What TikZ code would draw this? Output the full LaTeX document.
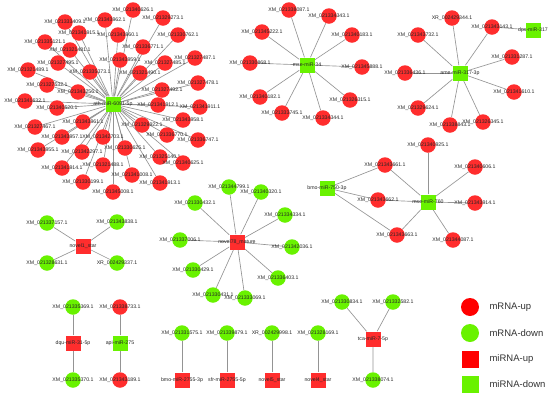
\documentclass[tikz,border=0pt]{standalone}
\usepackage{fontspec}
\setmainfont{Liberation Sans}
\usetikzlibrary{backgrounds}
\definecolor{upred}{RGB}{255,45,45}
\definecolor{downgreen}{RGB}{105,242,0}

\begin{document}
\begin{tikzpicture}[x=1pt,y=-1pt,
  mup/.style={circle,fill=upred,minimum size=15.5pt,inner sep=0pt},
  mdown/.style={circle,fill=downgreen,minimum size=15.5pt,inner sep=0pt},
  mirup/.style={rectangle,fill=upred,minimum size=15pt,inner sep=0pt},
  mirdown/.style={rectangle,fill=downgreen,minimum size=15pt,inner sep=0pt},
  lbl/.style={font=\fontsize{5.2}{6}\selectfont,text=black!85,inner sep=0pt},
  edge/.style={draw=black!42,line width=0.65pt},
  leg/.style={font=\fontsize{9.5}{11}\selectfont,text=black!80,anchor=west}]
\useasboundingbox (0,0) rectangle (550,397);

% hub 1
\node[mirdown,label={[lbl]center:ath-miR-6091-5p}] (h1) at (113,104) {};
\node[mup,label={[lbl]center:XM\_021333409.1}] (a1) at (65,22) {};
\node[mup,label={[lbl]center:XM\_021341915.1}] (a2) at (79,33) {};
\node[mup,label={[lbl]center:XM\_021335121.1}] (a3) at (45,42) {};
\node[mup,label={[lbl]center:XM\_021321481.1}] (a4) at (70,50) {};
\node[mup,label={[lbl]center:XM\_021327495.1}] (a5) at (58,63) {};
\node[mup,label={[lbl]center:XM\_021335373.1}] (a6) at (90,72) {};
\node[mup,label={[lbl]center:XM\_021321489.1}] (a7) at (28,70) {};
\node[mup,label={[lbl]center:XM\_021327532.1}] (a8) at (47,85) {};
\node[mup,label={[lbl]center:XM\_021343256.1}] (a9) at (78,92) {};
\node[mup,label={[lbl]center:XM\_021341632.1}] (a10) at (25,101) {};
\node[mup,label={[lbl]center:XM\_021340520.1}] (a11) at (57,108) {};
\node[mup,label={[lbl]center:XM\_021340626.1}] (a12) at (133,10) {};
\node[mup,label={[lbl]center:XM\_021343962.1}] (a13) at (105,20) {};
\node[mup,label={[lbl]center:XM\_021329273.1}] (a14) at (163,18) {};
\node[mup,label={[lbl]center:XM\_021343960.1}] (a15) at (118,35) {};
\node[mup,label={[lbl]center:XM\_021330762.1}] (a16) at (178,35) {};
\node[mup,label={[lbl]center:XM\_021336771.1}] (a17) at (143,47) {};
\node[mup,label={[lbl]center:XM\_021343959.1}] (a18) at (120,60) {};
\node[mup,label={[lbl]center:XM\_021327485.1}] (a19) at (165,63) {};
\node[mup,label={[lbl]center:XM\_021327487.1}] (a20) at (195,58) {};
\node[mup,label={[lbl]center:XM\_021321490.1}] (a21) at (140,73) {};
\node[mup,label={[lbl]center:XM\_021327492.1}] (a22) at (162,90) {};
\node[mup,label={[lbl]center:XM\_021327478.1}] (a23) at (198,83) {};
\node[mup,label={[lbl]center:XM\_021341912.1}] (a24) at (158,105) {};
\node[mup,label={[lbl]center:XM\_021341911.1}] (a25) at (200,107) {};
\node[mup,label={[lbl]center:XM\_021343961.1}] (a26) at (83,122) {};
\node[mup,label={[lbl]center:XM\_021327467.1}] (a27) at (35,127) {};
\node[mup,label={[lbl]center:XM\_021343957.1}] (a28) at (62,137) {};
\node[mup,label={[lbl]center:XM\_021342703.1}] (a29) at (103,137) {};
\node[mup,label={[lbl]center:XM\_021343955.1}] (a30) at (38,150) {};
\node[mup,label={[lbl]center:XM\_021342297.1}] (a31) at (82,152) {};
\node[mup,label={[lbl]center:XM\_021321488.1}] (a32) at (103,165) {};
\node[mup,label={[lbl]center:XM\_021341914.1}] (a33) at (62,168) {};
\node[mup,label={[lbl]center:XM\_021330199.1}] (a34) at (83,182) {};
\node[mup,label={[lbl]center:XM\_021345008.1}] (a35) at (113,192) {};
\node[mup,label={[lbl]center:XM\_021329922.1}] (a36) at (142,125) {};
\node[mup,label={[lbl]center:XM\_021343958.1}] (a37) at (183,120) {};
\node[mup,label={[lbl]center:XM\_021336770.1}] (a38) at (167,135) {};
\node[mup,label={[lbl]center:XM\_021336747.1}] (a39) at (198,140) {};
\node[mup,label={[lbl]center:XM\_021330625.1}] (a40) at (125,148) {};
\node[mup,label={[lbl]center:XM\_021325140.1}] (a41) at (160,157) {};
\node[mup,label={[lbl]center:XM\_021340625.1}] (a42) at (183,163) {};
\node[mup,label={[lbl]center:XM\_021341008.1}] (a43) at (132,175) {};
\node[mup,label={[lbl]center:XM\_021341913.1}] (a44) at (160,183) {};

% hub 2
\node[mirdown,label={[lbl]center:mse-miR-34}] (h2) at (307,65) {};
\node[mup,label={[lbl]center:XM\_021338087.1}] (b1) at (289,10) {};
\node[mup,label={[lbl]center:XM\_021334343.1}] (b2) at (329,16) {};
\node[mup,label={[lbl]center:XM\_021345222.1}] (b3) at (262,32) {};
\node[mup,label={[lbl]center:XM\_021340183.1}] (b4) at (352,35) {};
\node[mup,label={[lbl]center:XM\_021330868.1}] (b5) at (250,63) {};
\node[mup,label={[lbl]center:XM\_021345888.1}] (b6) at (362,67) {};
\node[mup,label={[lbl]center:XM\_021340182.1}] (b7) at (260,97) {};
\node[mup,label={[lbl]center:XM\_021326315.1}] (b8) at (350,100) {};
\node[mup,label={[lbl]center:XM\_021333745.1}] (b9) at (282,113) {};
\node[mup,label={[lbl]center:XM\_021334344.1}] (b10) at (323,118) {};

% hub 3
\node[mirdown,label={[lbl]center:ame-miR-317-3p}] (h3) at (460,73) {};
\node[mirdown,label={[lbl]center:dps-miR-317}] (h3b) at (533,30) {};
\node[mup,label={[lbl]center:XR\_002429344.1}] (c1) at (452,18) {};
\node[mup,label={[lbl]center:XM\_021343143.1}] (c2) at (492,27) {};
\node[mup,label={[lbl]center:XM\_021343732.1}] (c3) at (418,35) {};
\node[mup,label={[lbl]center:XM\_021336436.1}] (c4) at (405,73) {};
\node[mup,label={[lbl]center:XM\_021331287.1}] (c5) at (512,57) {};
\node[mup,label={[lbl]center:XM\_021341610.1}] (c6) at (514,92) {};
\node[mup,label={[lbl]center:XM\_021329624.1}] (c7) at (418,108) {};
\node[mup,label={[lbl]center:XM\_021338843.1}] (c8) at (450,125) {};
\node[mup,label={[lbl]center:XM\_021326345.1}] (c9) at (483,122) {};

% hub 4
\node[mirdown,label={[lbl]center:mse-miR-760}] (h4) at (428,202) {};
\node[mirdown,label={[lbl]center:bmo-miR-750-3p}] (h4b) at (327,188) {};
\node[mup,label={[lbl]center:XM\_021340925.1}] (d1) at (428,145) {};
\node[mup,label={[lbl]center:XM\_021343661.1}] (d2) at (385,165) {};
\node[mup,label={[lbl]center:XM\_021340606.1}] (d3) at (475,167) {};
\node[mup,label={[lbl]center:XM\_021343662.1}] (d4) at (378,200) {};
\node[mup,label={[lbl]center:XM\_021343914.1}] (d5) at (475,203) {};
\node[mup,label={[lbl]center:XM\_021343663.1}] (d6) at (397,235) {};
\node[mup,label={[lbl]center:XM\_021344087.1}] (d7) at (453,240) {};

% hub 5
\node[mirup,label={[lbl]center:novel78\_mature}] (h5) at (237,242) {};
\node[mdown,label={[lbl]center:XM\_021344799.1}] (e1) at (229,187) {};
\node[mdown,label={[lbl]center:XM\_021340320.1}] (e2) at (261,192) {};
\node[mdown,label={[lbl]center:XM\_021330432.1}] (e3) at (195,203) {};
\node[mdown,label={[lbl]center:XM\_021334334.1}] (e4) at (285,215) {};
\node[mdown,label={[lbl]center:XM\_021337006.1}] (e5) at (180,240) {};
\node[mdown,label={[lbl]center:XM\_021342036.1}] (e6) at (292,247) {};
\node[mdown,label={[lbl]center:XM\_021330429.1}] (e7) at (193,270) {};
\node[mdown,label={[lbl]center:XM\_021336403.1}] (e8) at (278,278) {};
\node[mdown,label={[lbl]center:XM\_021330431.1}] (e9) at (213,295) {};
\node[mdown,label={[lbl]center:XM\_021333069.1}] (e10) at (245,298) {};

% hub 6
\node[mirup,label={[lbl]center:novel1\_star}] (h6) at (83,246) {};
\node[mdown,label={[lbl]center:XM\_021337157.1}] (f1) at (47,223) {};
\node[mdown,label={[lbl]center:XM\_021343838.1}] (f2) at (117,222) {};
\node[mdown,label={[lbl]center:XM\_021328631.1}] (f3) at (47,263) {};
\node[mdown,label={[lbl]center:XR\_002429337.1}] (f4) at (117,263) {};

% pairs
\node[mirup,label={[lbl]center:dqu-miR-31-5p}] (p1) at (73,343) {};
\node[mdown,label={[lbl]center:XM\_021335369.1}] (p1a) at (73,307) {};
\node[mdown,label={[lbl]center:XM\_021335370.1}] (p1b) at (73,380) {};
\node[mirdown,label={[lbl]center:api-miR-275}] (p2) at (120,343) {};
\node[mup,label={[lbl]center:XM\_021338733.1}] (p2a) at (120,307) {};
\node[mup,label={[lbl]center:XM\_021343189.1}] (p2b) at (120,380) {};
\node[mirup,label={[lbl]center:bmo-miR-2755-3p}] (p3) at (182,380) {};
\node[mdown,label={[lbl]center:XM\_021331575.1}] (p3a) at (182,333) {};
\node[mirup,label={[lbl]center:sfr-miR-2755-5p}] (p4) at (227,380) {};
\node[mdown,label={[lbl]center:XM\_021339879.1}] (p4a) at (227,333) {};
\node[mirup,label={[lbl]center:novel5\_star}] (p5) at (272,380) {};
\node[mdown,label={[lbl]center:XR\_002429998.1}] (p5a) at (272,333) {};
\node[mirup,label={[lbl]center:novel4\_star}] (p6) at (318,380) {};
\node[mdown,label={[lbl]center:XM\_021328169.1}] (p6a) at (318,333) {};
\node[mirup,label={[lbl]center:tca-miR-7-5p}] (p7) at (373,339) {};
\node[mdown,label={[lbl]center:XM\_021330834.1}] (p7a) at (342,302) {};
\node[mdown,label={[lbl]center:XM\_021332582.1}] (p7b) at (393,302) {};
\node[mdown,label={[lbl]center:XM\_021338074.1}] (p7c) at (373,380) {};

% edges
\begin{scope}[on background layer]
\foreach \i in {1,...,44} \draw[edge] (h1) -- (a\i);
\foreach \i in {1,...,10} \draw[edge] (h2) -- (b\i);
\foreach \i in {1,...,9} \draw[edge] (h3) -- (c\i);
\draw[edge] (h3b) -- (c2);
\foreach \i in {1,...,7} \draw[edge] (h4) -- (d\i);
\draw[edge] (h4b) -- (d2) (h4b) -- (d4) (h4b) -- (d6);
\foreach \i in {1,...,10} \draw[edge] (h5) -- (e\i);
\foreach \i in {1,...,4} \draw[edge] (h6) -- (f\i);
\draw[edge] (p1) -- (p1a) (p1) -- (p1b) (p2) -- (p2a) (p2) -- (p2b);
\draw[edge] (p3) -- (p3a) (p4) -- (p4a) (p5) -- (p5a) (p6) -- (p6a);
\draw[edge] (p7) -- (p7a) (p7) -- (p7b) (p7) -- (p7c);
\end{scope}

% legend
\node[circle,fill=red,minimum size=18pt,inner sep=0pt] (l1) at (470,307) {};
\node[leg] (t1) at (486,307) {mRNA-up};
\node[circle,fill=downgreen,minimum size=18pt,inner sep=0pt] (l2) at (470,333) {};
\node[leg] (t2) at (486,333) {mRNA-down};
\node[rectangle,fill=red,minimum size=17pt,inner sep=0pt] (l3) at (470,359) {};
\node[leg] (t3) at (486,359) {miRNA-up};
\node[rectangle,fill=downgreen,minimum size=17pt,inner sep=0pt] (l4) at (470,384) {};
\node[leg] (t4) at (486,384) {miRNA-down};
\end{tikzpicture}
\end{document}
